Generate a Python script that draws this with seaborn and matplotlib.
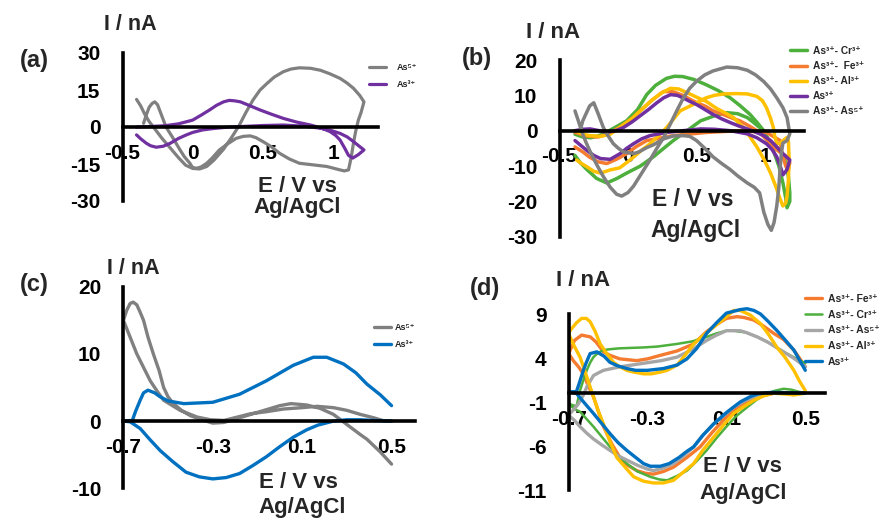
import matplotlib
matplotlib.use("Agg")
import matplotlib.pyplot as plt
import seaborn as sns
import pandas as pd

sns.set_style("white")
plt.rcParams['font.family'] = ['Liberation Sans', 'DejaVu Sans']
plt.rcParams['font.weight'] = 'bold'
plt.rcParams['axes.unicode_minus'] = False

W, H = 883, 525

# ---------------- Panel (a) ----------------
a_gray_v = [-0.40, -0.37, -0.34, -0.31, -0.28, -0.22, -0.16, -0.10, -0.05, 0.0, 0.05, 0.10, 0.15, 0.22, 0.28, 0.33, 0.38, 0.43, 0.48, 0.53, 0.58, 0.645, 0.70, 0.76, 0.84, 0.91, 0.98, 1.05, 1.10, 1.145, 1.19, 1.22, 1.20, 1.18, 1.16, 1.145, 1.13, 1.11, 1.08, 1.05, 0.955, 0.85, 0.76, 0.69, 0.62, 0.56, 0.50, 0.45, 0.41, 0.36, 0.31, 0.25, 0.19, 0.14, 0.10, 0.06, 0.03, 0.0, -0.02, -0.06, -0.09, -0.14, -0.19, -0.23, -0.25, -0.27, -0.29, -0.31, -0.33, -0.35]
a_gray_i = [11.2, 8.5, 5.0, 2.2, 0.0, -4.5, -8.5, -12.5, -15.5, -16.8, -17.0, -16.0, -13.5, -9.0, -4.0, 0.5, 6.0, 11.0, 15.0, 17.7, 20.2, 22.4, 23.5, 24.0, 23.8, 23.0, 21.5, 19.7, 17.8, 15.7, 12.8, 10.2, 6.0, 2.8, -2.0, -6.6, -12.0, -17.4, -17.8, -17.4, -16.0, -15.3, -14.7, -13.0, -10.7, -8.0, -5.9, -4.3, -3.6, -3.8, -4.6, -6.8, -9.3, -12.5, -14.7, -16.2, -16.7, -16.5, -14.7, -12.0, -9.3, -4.5, 0.0, 6.0, 9.0, 10.2, 9.5, 8.0, 5.0, 1.5]
a_purple_v = [-0.40, -0.30, -0.20, -0.10, 0.0, 0.06, 0.12, 0.17, 0.22, 0.26, 0.30, 0.34, 0.40, 0.48, 0.56, 0.645, 0.74, 0.84, 0.92, 0.98, 1.02, 1.05, 1.08, 1.11, 1.14, 1.18, 1.22, 1.18, 1.145, 1.10, 1.05, 0.98, 0.91, 0.80, 0.645, 0.50, 0.35, 0.26, 0.15, 0.07, 0.0, -0.045, -0.10, -0.16, -0.21, -0.26, -0.30, -0.33, -0.37, -0.40]
a_purple_i = [0.0, 0.2, 0.5, 1.3, 2.8, 4.8, 6.9, 8.8, 10.2, 10.8, 10.6, 10.2, 8.8, 6.9, 5.2, 3.5, 2.0, 0.8, -0.5, -1.9, -3.5, -5.3, -8.3, -11.5, -12.6, -11.2, -9.3, -7.5, -5.9, -4.0, -2.6, -1.3, -0.5, 0.3, 0.8, 0.6, 0.2, 0.0, -0.6, -1.2, -2.2, -3.2, -4.6, -6.6, -7.8, -8.2, -7.6, -6.6, -4.8, -3.2]

# ---------------- Panel (b) ----------------
b_green_v = [-0.387, -0.33, -0.27, -0.22, -0.18, -0.10, -0.01, 0.07, 0.136, 0.20, 0.28, 0.34, 0.40, 0.48, 0.57, 0.66, 0.745, 0.82, 0.89, 0.94, 0.99, 1.03, 1.06, 1.10, 1.13, 1.15, 1.16, 1.18, 1.18, 1.17, 1.15, 1.12, 1.08, 1.04, 1.00, 0.96, 0.91, 0.87, 0.80, 0.72, 0.63, 0.53, 0.43, 0.33, 0.26, 0.185, 0.09, -0.01, -0.08, -0.155, -0.23, -0.30, -0.35, -0.387]
b_green_i = [-1.0, -1.8, -2.0, -1.5, -0.9, 0.8, 2.8, 6.0, 10.2, 12.8, 14.8, 15.4, 15.3, 14.5, 13.0, 11.3, 9.3, 7.0, 4.6, 2.4, 0.0, -3.0, -5.6, -10.0, -14.8, -19.0, -21.8, -20.0, -17.6, -13.0, -9.0, -6.0, -4.5, -3.7, -1.2, 0.9, 2.5, 3.7, 4.8, 5.1, 4.2, 2.8, 0.0, -2.8, -5.0, -7.4, -10.0, -12.0, -13.5, -14.8, -13.5, -11.0, -9.0, -7.0]
b_orange_v = [-0.387, -0.30, -0.22, -0.15, -0.06, 0.03, 0.10, 0.18, 0.26, 0.33, 0.40, 0.47, 0.57, 0.62, 0.70, 0.77, 0.82, 0.89, 0.96, 1.01, 1.06, 1.11, 1.16, 1.18, 1.17, 1.15, 1.12, 1.11, 1.01, 0.82, 0.57, 0.33, 0.136, 0.06, -0.01, -0.08, -0.155, -0.22, -0.28, -0.33, -0.387]
b_orange_i = [-0.5, -1.5, -1.8, -1.0, 1.0, 3.5, 6.0, 8.8, 11.1, 11.0, 10.0, 8.5, 6.8, 5.6, 4.5, 3.4, 2.7, 1.2, -0.5, -2.5, -4.6, -6.2, -7.4, -9.0, -11.0, -10.0, -6.0, -2.8, -0.5, 0.0, -0.5, -1.4, -2.8, -4.5, -6.5, -8.0, -9.3, -8.8, -7.5, -6.0, -4.6]
b_yellow_v = [-0.387, -0.33, -0.28, -0.20, -0.13, -0.05, 0.03, 0.10, 0.17, 0.24, 0.31, 0.37, 0.45, 0.51, 0.57, 0.65, 0.71, 0.77, 0.85, 0.94, 0.99, 1.04, 1.08, 1.11, 1.13, 1.15, 1.16, 1.17, 1.175, 1.17, 1.16, 1.14, 1.11, 1.085, 1.07, 1.06, 1.04, 1.01, 0.98, 0.94, 0.87, 0.79, 0.70, 0.63, 0.57, 0.48, 0.38, 0.28, 0.22, 0.16, 0.10, 0.015, -0.06, -0.13, -0.20, -0.25, -0.30, -0.34, -0.375]
b_yellow_i = [0.0, -1.0, -1.4, -1.6, -1.0, 1.2, 3.5, 6.0, 8.5, 10.6, 12.0, 11.8, 10.4, 9.3, 8.3, 6.2, 5.0, 3.7, 0.5, -4.6, -8.0, -12.0, -16.0, -19.4, -21.3, -20.5, -18.5, -14.0, -8.0, -3.0, -1.9, -2.5, -3.5, -3.7, -1.5, 0.9, 3.5, 6.5, 8.5, 9.7, 10.4, 10.5, 10.4, 10.0, 9.3, 7.5, 5.6, 0.8, -1.5, -3.7, -5.5, -8.3, -10.5, -11.1, -12.0, -11.5, -10.2, -9.3, -8.3]
b_purple_v = [-0.387, -0.33, -0.277, -0.21, -0.155, -0.09, -0.034, 0.03, 0.088, 0.15, 0.21, 0.26, 0.31, 0.36, 0.40, 0.45, 0.50, 0.56, 0.62, 0.68, 0.745, 0.81, 0.87, 0.93, 0.99, 1.04, 1.085, 1.13, 1.18, 1.16, 1.13, 1.11, 1.085, 1.05, 1.01, 0.94, 0.87, 0.745, 0.63, 0.53, 0.40, 0.28, 0.16, 0.10, 0.04, -0.01, -0.058, -0.13, -0.20, -0.25, -0.30, -0.35, -0.387]
b_purple_i = [0.0, 0.4, 0.5, 0.0, -0.5, 0.0, 0.9, 2.5, 4.2, 6.0, 7.9, 9.3, 10.2, 10.0, 9.3, 8.3, 7.4, 6.0, 4.6, 3.4, 2.3, 1.3, 0.5, -0.4, -1.4, -2.8, -4.6, -6.5, -8.3, -11.0, -12.5, -10.0, -7.4, -5.3, -3.7, -2.0, -0.9, 0.0, 0.4, 0.5, 0.0, -0.5, -1.4, -2.3, -3.7, -5.0, -6.5, -8.1, -7.9, -7.0, -5.6, -4.0, -2.8]
b_gray_v = [-0.387, -0.36, -0.34, -0.31, -0.28, -0.23, -0.18, -0.13, -0.083, -0.046, 0.0, 0.04, 0.10, 0.16, 0.21, 0.26, 0.31, 0.355, 0.40, 0.45, 0.50, 0.56, 0.62, 0.72, 0.80, 0.87, 0.93, 0.99, 1.04, 1.085, 1.13, 1.16, 1.18, 1.16, 1.13, 1.12, 1.11, 1.10, 1.085, 1.065, 1.045, 1.02, 0.99, 0.96, 0.92, 0.87, 0.80, 0.745, 0.68, 0.62, 0.56, 0.50, 0.45, 0.40, 0.33, 0.26, 0.185, 0.136, 0.08, 0.04, -0.034, -0.07, -0.107, -0.15, -0.18, -0.22, -0.25, -0.28, -0.31, -0.33, -0.35]
b_gray_i = [5.6, 2.5, 0.0, -3.0, -5.6, -9.5, -13.0, -16.0, -18.0, -18.5, -17.5, -15.7, -12.0, -8.3, -5.0, -1.9, 2.0, 5.6, 9.0, 12.0, 14.0, 15.8, 16.9, 18.0, 17.8, 17.1, 15.8, 13.9, 11.8, 9.3, 6.5, 3.7, -0.9, -2.8, -3.5, -6.0, -10.2, -16.0, -21.3, -26.0, -28.2, -26.5, -23.0, -17.6, -16.0, -14.8, -12.8, -11.0, -9.2, -7.4, -5.0, -2.8, -1.6, -1.4, -1.5, -2.3, -4.0, -4.8, -6.0, -6.5, -6.0, -5.0, -3.7, -1.2, 0.9, 5.0, 7.9, 7.0, 4.5, 2.8, 0.0]

# ---------------- Panel (c) ----------------
c_gray_v = [0.50, 0.47, 0.42, 0.36, 0.30, 0.24, 0.167, 0.10, 0.017, -0.06, -0.13, -0.19, -0.25, -0.31, -0.37, -0.446, -0.52, -0.55, -0.58, -0.61, -0.64, -0.67, -0.70, -0.685, -0.67, -0.656, -0.64, -0.625, -0.61, -0.59, -0.566, -0.54, -0.52, -0.50, -0.476, -0.44, -0.40, -0.35, -0.30, -0.25, -0.20, -0.10, 0.0, 0.05, 0.12, 0.18, 0.24, 0.28, 0.32, 0.36, 0.39, 0.45, 0.50]
c_gray_i = [0.0, 0.0, 0.5, 1.0, 1.6, 2.0, 2.2, 2.0, 1.8, 1.4, 1.1, 0.6, 0.1, 0.2, 0.6, 1.6, 3.1, 4.5, 6.0, 8.0, 10.0, 12.5, 15.0, 16.5, 17.5, 17.7, 17.3, 16.2, 15.0, 12.5, 10.0, 7.5, 5.0, 3.6, 2.6, 1.6, 0.8, 0.2, -0.3, -0.2, 0.3, 1.3, 2.3, 2.6, 2.4, 1.9, 1.0, 0.0, -1.0, -2.0, -2.7, -4.6, -6.4]
c_blue_v = [0.50, 0.45, 0.39, 0.34, 0.285, 0.21, 0.15, 0.06, -0.06, -0.18, -0.30, -0.43, -0.50, -0.535, -0.56, -0.59, -0.61, -0.625, -0.645, -0.66, -0.70, -0.67, -0.625, -0.58, -0.535, -0.48, -0.42, -0.36, -0.30, -0.24, -0.18, -0.12, -0.06, 0.0, 0.06, 0.12, 0.17, 0.24, 0.30, 0.36, 0.42, 0.50]
c_blue_i = [2.3, 3.9, 5.5, 7.2, 8.5, 9.5, 9.5, 8.3, 6.0, 4.0, 2.8, 2.6, 3.0, 3.6, 4.2, 4.6, 4.2, 3.1, 1.5, 0.1, 0.0, -0.1, -1.1, -2.8, -4.4, -6.0, -7.6, -8.3, -8.6, -8.4, -7.8, -6.6, -5.3, -3.8, -2.4, -1.3, -0.6, 0.0, 0.2, 0.2, 0.1, 0.0]

# ---------------- Panel (d) ----------------
d_orange_v = [0.50, 0.47, 0.442, 0.39, 0.34, 0.29, 0.24, 0.19, 0.154, 0.10, 0.05, 0.0, -0.066, -0.15, -0.235, -0.30, -0.354, -0.44, -0.49, -0.523, -0.56, -0.59, -0.634, -0.67, -0.70, -0.676, -0.65, -0.625, -0.60, -0.574, -0.55, -0.523, -0.48, -0.44, -0.40, -0.354, -0.31, -0.27, -0.22, -0.168, -0.10, -0.033, 0.03, 0.10, 0.16, 0.22, 0.28, 0.34, 0.42, 0.50]
d_orange_i = [3.0, 4.0, 4.9, 6.1, 6.8, 7.6, 8.3, 8.6, 8.7, 8.5, 7.8, 7.0, 5.6, 4.8, 4.3, 3.9, 3.7, 3.9, 4.3, 4.7, 5.8, 6.4, 6.6, 6.0, 4.5, 3.7, 3.0, 2.2, 0.8, -0.4, -2.0, -3.8, -5.8, -7.3, -8.2, -8.8, -9.1, -9.2, -8.9, -8.4, -7.3, -6.1, -4.4, -2.7, -1.6, -0.8, -0.3, 0.0, 0.0, 0.0]
d_green_v = [0.50, 0.44, 0.375, 0.31, 0.256, 0.20, 0.137, 0.10, 0.05, 0.0, -0.07, -0.15, -0.25, -0.32, -0.44, -0.49, -0.523, -0.55, -0.574, -0.59, -0.608, -0.625, -0.642, -0.66, -0.70, -0.67, -0.642, -0.61, -0.574, -0.53, -0.49, -0.45, -0.405, -0.35, -0.286, -0.24, -0.20, -0.15, -0.10, -0.05, 0.0, 0.05, 0.10, 0.15, 0.205, 0.25, 0.307, 0.35, 0.39, 0.43, 0.46, 0.50]
d_green_i = [3.4, 4.1, 4.9, 5.8, 6.4, 6.9, 7.1, 7.1, 6.8, 6.4, 5.9, 5.6, 5.3, 5.2, 5.1, 5.0, 4.9, 4.6, 4.1, 3.5, 2.6, 1.5, 0.3, -1.5, -1.2, -1.8, -2.1, -2.9, -3.8, -5.0, -6.1, -7.1, -8.0, -8.9, -9.5, -9.8, -9.9, -9.4, -8.8, -7.7, -6.5, -5.1, -3.8, -2.6, -1.6, -0.8, 0.0, 0.3, 0.5, 0.4, 0.2, 0.0]
d_gray_v = [0.50, 0.44, 0.375, 0.31, 0.256, 0.20, 0.17, 0.10, 0.05, 0.0, -0.07, -0.15, -0.23, -0.32, -0.44, -0.523, -0.55, -0.574, -0.59, -0.608, -0.625, -0.65, -0.68, -0.70, -0.67, -0.642, -0.61, -0.574, -0.53, -0.49, -0.45, -0.405, -0.35, -0.303, -0.27, -0.22, -0.168, -0.12, -0.066, -0.02, 0.035, 0.09, 0.137, 0.19, 0.24, 0.30, 0.34, 0.42, 0.50]
d_gray_i = [3.0, 4.0, 4.9, 5.8, 6.4, 6.9, 7.1, 7.1, 6.6, 6.0, 5.0, 4.1, 3.7, 3.4, 3.0, 2.6, 2.3, 2.0, 1.4, 0.7, -0.2, -1.2, -2.0, -2.5, -3.1, -3.8, -4.5, -5.2, -5.9, -6.5, -7.1, -7.6, -8.2, -8.6, -8.8, -8.5, -8.0, -7.2, -6.1, -4.8, -3.5, -2.5, -1.6, -0.9, -0.4, -0.1, 0.0, 0.0, 0.0]
d_yellow_v = [0.50, 0.47, 0.442, 0.40, 0.357, 0.31, 0.273, 0.22, 0.17, 0.137, 0.09, 0.035, -0.02, -0.066, -0.11, -0.15, -0.20, -0.235, -0.28, -0.32, -0.37, -0.405, -0.44, -0.472, -0.51, -0.54, -0.565, -0.59, -0.61, -0.634, -0.66, -0.69, -0.70, -0.693, -0.67, -0.642, -0.61, -0.574, -0.55, -0.523, -0.49, -0.456, -0.41, -0.37, -0.32, -0.27, -0.22, -0.168, -0.12, -0.066, -0.02, 0.035, 0.09, 0.137, 0.19, 0.24, 0.29, 0.34, 0.40, 0.442, 0.50]
d_yellow_i = [0.3, 1.4, 2.6, 4.0, 5.2, 6.8, 7.9, 8.9, 9.4, 9.4, 8.5, 7.5, 6.5, 5.6, 4.3, 3.2, 2.6, 2.4, 2.2, 2.2, 2.4, 2.6, 3.0, 3.5, 4.6, 5.6, 7.0, 8.1, 8.5, 8.5, 8.0, 7.2, 6.8, 6.4, 5.3, 4.1, 2.0, -0.4, -2.0, -3.5, -5.5, -7.3, -8.5, -9.5, -10.0, -10.2, -10.2, -9.9, -9.0, -8.0, -6.5, -5.0, -3.5, -2.3, -1.5, -0.8, -0.3, 0.0, -0.1, -0.2, 0.0]
d_blue_v = [0.50, 0.47, 0.442, 0.40, 0.357, 0.31, 0.273, 0.24, 0.205, 0.17, 0.10, 0.05, 0.0, -0.05, -0.10, -0.15, -0.22, -0.30, -0.36, -0.405, -0.45, -0.49, -0.52, -0.557, -0.591, -0.61, -0.625, -0.645, -0.66, -0.68, -0.70, -0.68, -0.659, -0.62, -0.574, -0.53, -0.49, -0.45, -0.405, -0.36, -0.32, -0.286, -0.235, -0.19, -0.14, -0.10, -0.066, -0.02, 0.035, 0.10, 0.17, 0.22, 0.256, 0.30, 0.34, 0.42, 0.50]
d_blue_i = [2.6, 3.8, 4.9, 6.0, 7.1, 8.2, 9.0, 9.4, 9.6, 9.5, 9.1, 8.0, 6.8, 5.1, 3.9, 3.2, 2.8, 2.6, 2.6, 2.8, 3.1, 3.5, 4.2, 4.7, 4.5, 3.5, 2.6, 1.2, 0.2, 0.15, 0.14, 0.1, -0.05, -1.1, -2.3, -3.5, -4.6, -5.6, -6.5, -7.3, -8.0, -8.3, -8.3, -8.0, -7.3, -6.6, -6.1, -4.8, -3.5, -2.2, -1.0, -0.4, -0.1, 0.05, 0.1, 0.05, 0.0]

GRAY = '#808080'
LGRAY = '#a6a6a6'
PURPLE = '#7030a0'
GREEN = '#4daf3c'
ORANGE = '#f47b2f'
YELLOW = '#ffc000'
BLUE = '#0070c0'

fig = plt.figure(figsize=(W / 100, H / 100), dpi=100)


def px_axes(x0, x1, y_top, y_bot):
    return fig.add_axes([x0 / W, 1 - y_bot / H, (x1 - x0) / W, (y_bot - y_top) / H])


def style_axes(ax, xlim, ylim, xticks, xlabels, yticks, ybounds):
    ax.set_xlim(*xlim)
    ax.set_ylim(*ylim)
    for s in ['top', 'right']:
        ax.spines[s].set_visible(False)
    ax.spines['left'].set_position(('data', xlim[0]))
    ax.spines['bottom'].set_position(('data', 0))
    ax.spines['left'].set_bounds(*ybounds)
    for s in ['left', 'bottom']:
        ax.spines[s].set_linewidth(2.6)
        ax.spines[s].set_color('black')
    ax.set_xticks(xticks)
    ax.set_xticklabels(xlabels)
    ax.set_yticks(yticks)
    ax.set_yticklabels([str(t) for t in yticks])
    ax.tick_params(axis='both', which='major', direction='out', length=5, width=2.4,
                   labelsize=15, colors='black')
    ax.tick_params(axis='x', pad=7)
    ax.tick_params(axis='y', pad=11)
    for lab in ax.get_xticklabels() + ax.get_yticklabels():
        lab.set_fontweight('bold')
    ax.set_xlabel('')
    ax.set_ylabel('')
    ax.patch.set_alpha(0)


def draw(ax, v, i, color, label, lw=2.3):
    df = pd.DataFrame({'E': v, 'I': i})
    sns.lineplot(data=df, x='E', y='I', sort=False, estimator=None, color=color,
                 lw=lw, label=label, ax=ax)


def legend(ax, x, y, fs, hl, htp, ls):
    ax.legend(loc='upper left', bbox_to_anchor=(x / W, 1 - y / H), bbox_transform=fig.transFigure,
              frameon=False, borderpad=0, borderaxespad=0, handlelength=hl, handletextpad=htp,
              labelspacing=ls, prop={'size': fs, 'weight': 'bold'})


def ftext(x, y, s, fs=15):
    fig.text(x / W, 1 - y / H, s, ha='center', va='center', fontsize=fs, fontweight='bold')


# (a)
axa = px_axes(122.5, 378, 53, 201)
draw(axa, a_gray_v, a_gray_i, GRAY, 'As⁵⁺')
draw(axa, a_purple_v, a_purple_i, PURPLE, 'As³⁺')
style_axes(axa, (-0.5, 1.32), (-30, 30), [-0.5, 0, 0.5, 1], ['-0.5', '0', '0.5', '1'],
           [-30, -15, 0, 15, 30], (-30, 30))
legend(axa, 369, 63, 6.5, 1.9, 1.2, 0.9)

# (b)
axb = px_axes(559.5, 803.5, 60, 236.7)
draw(axb, b_green_v, b_green_i, GREEN, 'As³⁺- Cr³⁺', 2.5)
draw(axb, b_orange_v, b_orange_i, ORANGE, 'As³⁺-  Fe³⁺', 2.5)
draw(axb, b_yellow_v, b_yellow_i, YELLOW, 'As³⁺- Al³⁺', 2.5)
draw(axb, b_purple_v, b_purple_i, PURPLE, 'As³⁺', 2.5)
draw(axb, b_gray_v, b_gray_i, GRAY, 'As³⁺- As⁵⁺', 2.5)
style_axes(axb, (-0.5, 1.28), (-30, 20), [-0.5, 0, 0.5, 1], ['-0.5', '0', '0.5', '1'],
           [-30, -20, -10, 0, 10, 20], (-30, 20))
legend(axb, 790, 46, 7.3, 1.65, 0.6, 0.5)

# (c)
axc = px_axes(123.4, 415, 286.7, 488.3)
draw(axc, c_gray_v, c_gray_i, GRAY, 'As⁵⁺', 2.4)
draw(axc, c_blue_v, c_blue_i, BLUE, 'As³⁺', 2.4)
style_axes(axc, (-0.7, 0.605), (-10, 20), [-0.7, -0.3, 0.1, 0.5], ['-0.7', '-0.3', '0.1', '0.5'],
           [-10, 0, 10, 20], (-10, 20))
legend(axc, 374, 323, 6.5, 1.9, 0.4, 0.9)

# (d)
axd = px_axes(568.6, 825, 305.2, 490)
draw(axd, d_orange_v, d_orange_i, ORANGE, 'As³⁺- Fe³⁺', 2.4)
draw(axd, d_green_v, d_green_i, GREEN, 'As³⁺- Cr³⁺', 1.8)
draw(axd, d_gray_v, d_gray_i, LGRAY, 'As³⁺- As⁵⁺', 2.4)
draw(axd, d_yellow_v, d_yellow_i, YELLOW, 'As³⁺- Al³⁺', 2.4)
draw(axd, d_blue_v, d_blue_i, BLUE, 'As³⁺', 2.4)
style_axes(axd, (-0.7, 0.6), (-11, 10), [-0.7, -0.3, 0.1, 0.5], ['-0.7', '-0.3', '0.1', '0.5'],
           [-11, -6, -1, 4, 9], (-11, 9))
legend(axd, 805, 294, 7.5, 1.6, 0.6, 0.55)

# texts
ftext(130, 24, 'I / nA', 15.5)
ftext(34, 60, '(a)', 17)
ftext(297, 187, 'E / V vs', 16)
ftext(297, 208, 'Ag/AgCl', 16)

ftext(553, 32, 'I / nA', 16)
ftext(477, 58, '(b)', 17)
ftext(693, 200, 'E / V vs', 16.5)
ftext(695, 230, 'Ag/AgCl', 16.5)

ftext(133, 268, 'I / nA', 15.5)
ftext(34, 284, '(c)', 17)
ftext(298, 482, 'E / V vs', 16)
ftext(302, 508, 'Ag/AgCl', 16)

ftext(583, 280, 'I / nA', 16)
ftext(485, 288, '(d)', 17)
ftext(742, 467, 'E / V vs', 16)
ftext(743, 493, 'Ag/AgCl', 16)

fig.savefig('out.png', dpi=100)
